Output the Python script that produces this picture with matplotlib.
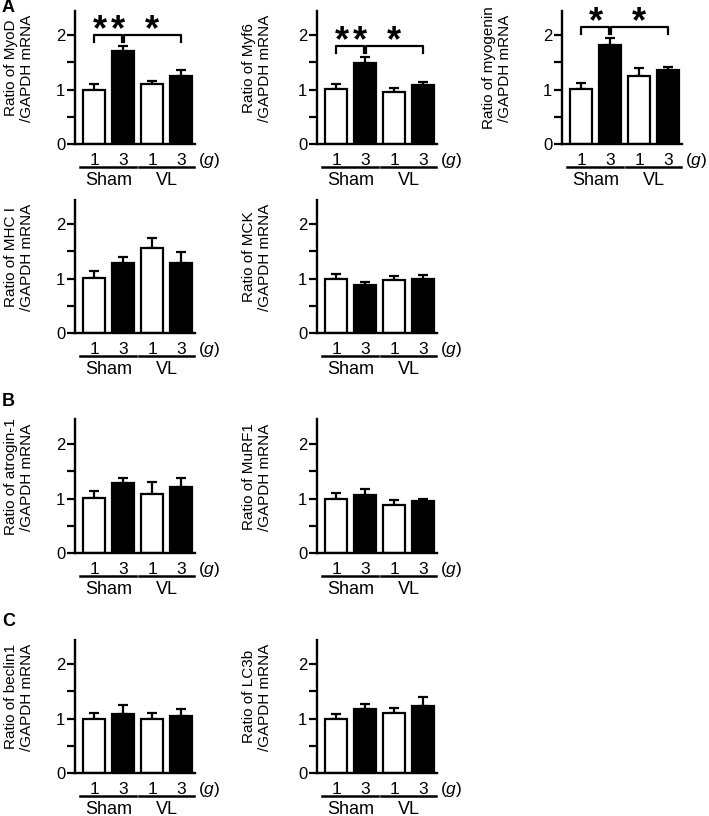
import numpy as np
import matplotlib.pyplot as plt
from matplotlib.transforms import blended_transform_factory, ScaledTranslation

plt.rcParams['font.family'] = ['Liberation Sans', 'DejaVu Sans']
plt.rcParams['mathtext.fontset'] = 'custom'
plt.rcParams['mathtext.it'] = 'Liberation Sans:italic'
plt.rcParams['mathtext.rm'] = 'Liberation Sans'

# data (mean, upper SEM)
weights = ['1', '3', '1', '3']
groups = ['Sham', 'VL']

myod_mean = [1.00, 1.71, 1.11, 1.25]
myod_err = [0.11, 0.08, 0.05, 0.10]
myf6_mean = [1.01, 1.48, 0.95, 1.08]
myf6_err = [0.09, 0.12, 0.07, 0.06]
myogenin_mean = [1.01, 1.82, 1.24, 1.36]
myogenin_err = [0.11, 0.12, 0.15, 0.05]
mhc1_mean = [1.01, 1.28, 1.56, 1.29]
mhc1_err = [0.13, 0.12, 0.18, 0.19]
mck_mean = [1.00, 0.89, 0.98, 1.00]
mck_err = [0.09, 0.05, 0.06, 0.06]
atrogin_mean = [1.01, 1.29, 1.08, 1.21]
atrogin_err = [0.13, 0.09, 0.23, 0.17]
murf1_mean = [1.00, 1.07, 0.88, 0.96]
murf1_err = [0.11, 0.11, 0.09, 0.03]
beclin1_mean = [1.00, 1.09, 0.99, 1.04]
beclin1_err = [0.10, 0.15, 0.11, 0.13]
lc3b_mean = [1.00, 1.17, 1.10, 1.23]
lc3b_err = [0.09, 0.10, 0.09, 0.17]

# significance: (bar a, bar b, stars, bracket height)
myod_sig = [(0, 1, 2, 2.00), (1, 3, 1, 2.00)]
myf6_sig = [(0, 1, 2, 1.80), (1, 3, 1, 1.80)]
myogenin_sig = [(0, 1, 1, 2.15), (1, 3, 1, 2.15)]

W, H = 709, 816
fig = plt.figure(figsize=(W / 100, H / 100), dpi=100)

AX_W = 120
AX_H = 133.5
cols = [75, 317, 562]
label_x = [19, 257, 497]
rows = [144, 333, 553, 773]

panels = [
    ('MyoD', myod_mean, myod_err, 0, 0, myod_sig),
    ('Myf6', myf6_mean, myf6_err, 1, 0, myf6_sig),
    ('myogenin', myogenin_mean, myogenin_err, 2, 0, myogenin_sig),
    ('MHC I', mhc1_mean, mhc1_err, 0, 1, None),
    ('MCK', mck_mean, mck_err, 1, 1, None),
    ('atrogin-1', atrogin_mean, atrogin_err, 0, 2, None),
    ('MuRF1', murf1_mean, murf1_err, 1, 2, None),
    ('beclin1', beclin1_mean, beclin1_err, 0, 3, None),
    ('LC3b', lc3b_mean, lc3b_err, 1, 3, None),
]


def shifted(ax, dx, dy, y_axes=True):
    base = blended_transform_factory(ax.transData, ax.transAxes) if y_axes else ax.transData
    return base + ScaledTranslation(dx / 100, -dy / 100, fig.dpi_scale_trans)


for gene, mean, err, c, r, sig in panels:
    base = rows[r]
    ax = fig.add_axes([cols[c] / W, (H - base) / H, AX_W / W, AX_H / H])
    x = np.arange(4)
    ax.errorbar(x, mean, yerr=[np.zeros(4), err], fmt='none', ecolor='black',
                elinewidth=1.6, capsize=3.5, capthick=1.6, zorder=1)
    ax.bar(x, mean, width=0.76, color=['white', 'black', 'white', 'black'],
           edgecolor='black', linewidth=1.6, zorder=2)
    ax.set_xlim(-0.655, 3.48)
    ax.set_ylim(0, 2.45)
    ax.set_yticks([0, 0.5, 1, 1.5, 2])
    ax.set_yticklabels(['0', '', '1', '', '2'])
    ax.set_xticks([])
    ax.tick_params(axis='y', length=5.5, width=1.6, pad=1.5, labelsize=12)
    for s in ['top', 'right']:
        ax.spines[s].set_visible(False)
    for s in ['left', 'bottom']:
        ax.spines[s].set_linewidth(1.7)

    # x labels
    for i, w in enumerate(weights):
        ax.text(i, 0, w, transform=shifted(ax, 0, 21), ha='center', va='baseline', fontsize=12.5)
    ax.text(3.95, 0, r'($\mathit{g}$)', transform=shifted(ax, 0, 21), ha='center', va='baseline', fontsize=12.5)
    ax.plot([-0.48, 1.45], [0, 0], transform=shifted(ax, 0, 22.5), color='black', lw=1.8, clip_on=False)
    ax.plot([1.55, 3.45], [0, 0], transform=shifted(ax, 0, 22.5), color='black', lw=1.8, clip_on=False)
    ax.text(0.5, 0, groups[0], transform=shifted(ax, 0, 41), ha='center', va='baseline', fontsize=13)
    ax.text(2.5, 0, groups[1], transform=shifted(ax, 0, 41), ha='center', va='baseline', fontsize=13)

    # y label
    ly = base - 0.57 * AX_H
    fig.text(label_x[c] / W, 1 - ly / H, 'Ratio of ' + gene + '\n/GAPDH mRNA',
             rotation=90, ha='center', va='center', multialignment='center',
             linespacing=1.1, fontsize=11)

    if sig:
        for a, b, n, y in sig:
            xa = a + (0.05 if a == 1 else 0)
            xb = b - (0.05 if b == 1 else 0)
            ax.plot([xa, xa, xb, xb], [y - 0.13, y, y, y - 0.13], color='black', lw=1.6, clip_on=False)
            mid = (a + b) / 2
            offs = [0] if n == 1 else [-9, 9]
            for o in offs:
                ax.text(mid, y - 0.09, '*', transform=shifted(ax, o, 0, y_axes=False),
                        ha='center', va='baseline', fontsize=26, fontweight='bold', clip_on=False)

for letter, yp in [('A', 7), ('B', 402), ('C', 622)]:
    fig.text(2 / W, 1 - yp / H, letter, fontweight='bold', fontsize=13, ha='left', va='center')

fig.savefig('out.png', dpi=100)
